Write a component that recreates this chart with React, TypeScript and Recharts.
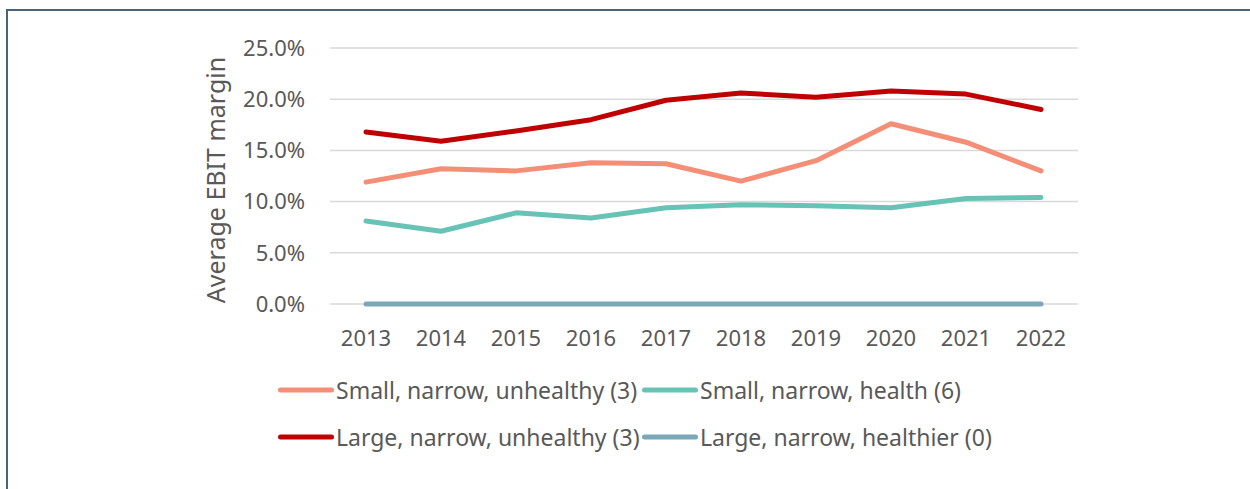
import React from 'react';
import { LineChart, Line, XAxis, YAxis, CartesianGrid } from 'recharts';

const years = ['2013', '2014', '2015', '2016', '2017', '2018', '2019', '2020', '2021', '2022'];
const smallUnhealthy = [11.9, 13.2, 13.0, 13.8, 13.7, 12.0, 14.0, 17.6, 15.8, 13.0];
const smallHealth = [8.1, 7.1, 8.9, 8.4, 9.4, 9.7, 9.6, 9.4, 10.3, 10.4];
const largeUnhealthy = [16.8, 15.9, 16.9, 18.0, 19.9, 20.6, 20.2, 20.8, 20.5, 19.0];
const largeHealthier = [0, 0, 0, 0, 0, 0, 0, 0, 0, 0];
const yTicks = [0, 5, 10, 15, 20, 25];

const seriesNames = [
  'Small, narrow, unhealthy (3)',
  'Small, narrow, health (6)',
  'Large, narrow, unhealthy (3)',
  'Large, narrow, healthier (0)',
];
const seriesKeys = ['su', 'sh', 'lu', 'lh'];
const seriesColors = ['#f58e76', '#66c3b5', '#c00000', '#7aa8b6'];

const data = years.map((y, i) => ({
  year: y,
  su: smallUnhealthy[i],
  sh: smallHealth[i],
  lu: largeUnhealthy[i],
  lh: largeHealthier[i],
}));

const FONT = '"Noto Sans", "Open Sans", sans-serif';
const TEXT = '#595959';

const YLabel = (props: any) => {
  const vb = props.viewBox || { y: 48, height: 256 };
  const cx = 225;
  const cy = vb.y + vb.height / 2 + 4;
  return (
    <text
      x={cx}
      y={cy}
      transform={`rotate(-90 ${cx} ${cy})`}
      textAnchor="middle"
      fill={TEXT}
      fontSize={25}
      fontFamily={FONT}
    >
      Average EBIT margin
    </text>
  );
};

const legendOrder = [[0, 1], [2, 3]];

export default function App() {
  return (
    <div style={{ position: 'absolute', left: 0, top: 0, width: 1250, height: 489, overflow: 'hidden', background: '#fff' }}>
      <div
        style={{
          position: 'absolute',
          left: 6,
          top: 9,
          width: 1400,
          height: 600,
          border: '2px solid #4b6376',
          boxSizing: 'border-box',
        }}
      />
      <div style={{ position: 'absolute', left: 0, top: 0 }}>
        <LineChart
          width={1250}
          height={489}
          data={data}
          margin={{ top: 48, right: 172, bottom: 125, left: 0 }}
        >
          <CartesianGrid vertical={false} stroke="#d9d9d9" strokeWidth={1.5} />
          <XAxis
            dataKey="year"
            axisLine={false}
            tickLine={false}
            tickSize={0}
            tickMargin={26}
            height={60}
            interval={0}
            padding={{ left: 36, right: 37 }}
            tick={{ fill: TEXT, fontSize: 22, fontFamily: FONT }}
          />
          <YAxis
            width={330}
            domain={[0, 25]}
            ticks={yTicks}
            axisLine={false}
            tickLine={false}
            tickSize={0}
            tickMargin={25}
            tickFormatter={(v: number) => v.toFixed(1) + '%'}
            tick={{ fill: TEXT, fontSize: 22, fontFamily: FONT }}
            label={<YLabel />}
          />
          {[3, 1, 0, 2].map((i) => (
            <Line
              key={seriesKeys[i]}
              type="linear"
              dataKey={seriesKeys[i]}
              name={seriesNames[i]}
              stroke={seriesColors[i]}
              strokeWidth={5}
              strokeLinecap="round"
              strokeLinejoin="round"
              dot={false}
              activeDot={false}
              isAnimationActive={false}
            />
          ))}
        </LineChart>
      </div>
      <div style={{ position: 'absolute', left: 278, top: 366, fontFamily: FONT, fontSize: 23, color: TEXT }}>
        {legendOrder.map((row, r) => (
          <div key={r} style={{ display: 'flex', height: 47, alignItems: 'center' }}>
            {row.map((i, c) => (
              <div key={i} style={{ display: 'flex', alignItems: 'center', width: c === 0 ? 364 : 'auto', flexShrink: 0 }}>
                <svg width={56} height={8} style={{ marginRight: 2, flexShrink: 0 }}>
                  <line x1={2.5} y1={4} x2={53.5} y2={4} stroke={seriesColors[i]} strokeWidth={5} strokeLinecap="round" />
                </svg>
                <span style={{ whiteSpace: 'nowrap' }}>{seriesNames[i]}</span>
              </div>
            ))}
          </div>
        ))}
      </div>
    </div>
  );
}
